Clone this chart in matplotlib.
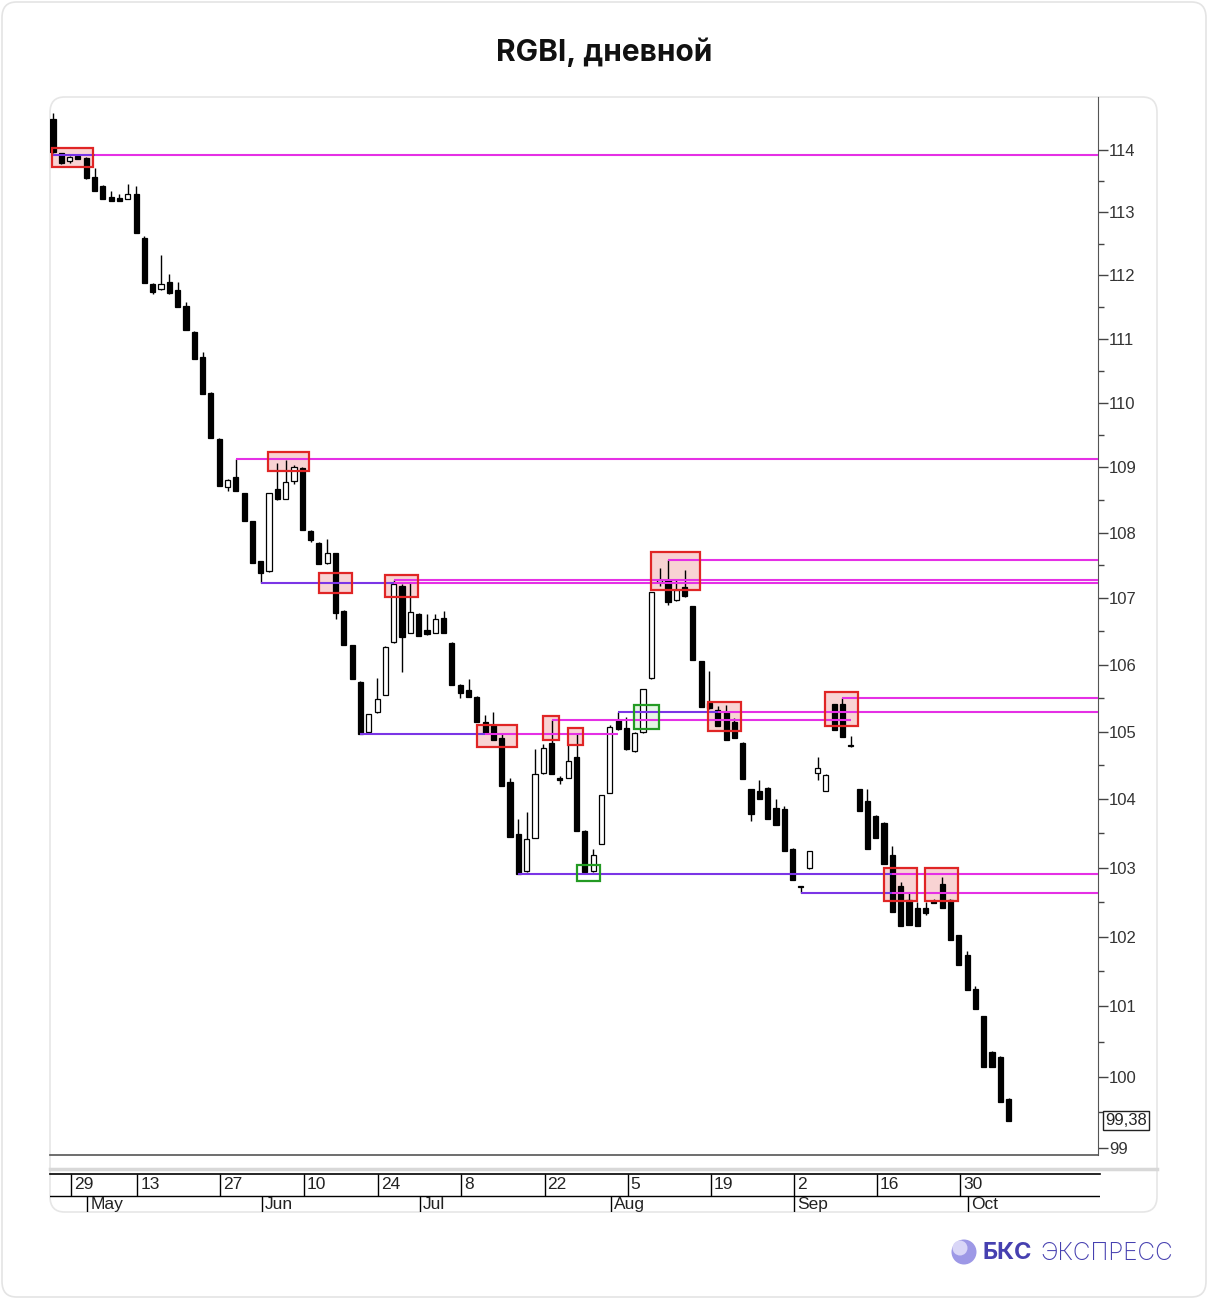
import matplotlib.pyplot as plt
from matplotlib.patches import Rectangle, FancyBboxPatch, Ellipse
from matplotlib.ticker import FixedLocator, NullFormatter

# RGBI daily candles, 2024-04-25 .. 2024-10-08 (bar index on x)
opens = [114.50, 113.95, 113.83, 113.90, 113.87, 113.57, 113.42, 113.25, 113.23, 113.22,
         113.30, 112.60, 111.87, 111.78, 111.90, 111.77, 111.52, 111.11, 110.71, 110.15,
         109.44, 108.69, 108.85, 108.60, 108.17, 107.56, 107.41, 108.66, 108.52, 108.79,
         108.99, 108.03, 107.84, 107.53, 107.68, 106.81, 106.29, 105.74, 104.99, 105.29,
         105.55, 106.34, 107.19, 106.48, 106.77, 106.52, 106.48, 106.70, 106.33, 105.70,
         105.62, 105.52, 105.14, 105.10, 104.91, 104.25, 103.49, 102.95, 103.44, 104.39,
         104.83, 104.30, 104.32, 104.62, 103.54, 102.95, 103.35, 104.10, 105.18, 105.05,
         104.71, 104.99, 105.80, 107.25, 107.27, 106.97, 107.17, 106.88, 106.05, 105.43,
         105.33, 105.29, 105.15, 104.84, 104.15, 104.13, 104.17, 103.88, 103.86, 103.28,
         102.73, 102.99, 104.39, 104.13, 105.41, 105.41, 104.80, 104.15, 103.97, 103.76,
         103.66, 103.18, 102.74, 102.53, 102.41, 102.42, 102.50, 102.77, 102.53, 102.02,
         101.73, 101.25, 100.86, 100.35, 100.28, 99.68]
highs = [114.60, 113.96, 113.90, 113.91, 113.89, 113.71, 113.44, 113.34, 113.30, 113.46,
         113.42, 112.62, 111.88, 112.33, 112.02, 111.90, 111.58, 111.12, 110.79, 110.16,
         109.45, 108.82, 109.13, 108.61, 108.18, 107.57, 108.60, 109.07, 109.11, 109.03,
         109.00, 108.04, 107.85, 107.90, 107.69, 106.82, 106.30, 105.75, 105.27, 105.80,
         106.28, 107.27, 107.22, 107.24, 106.78, 106.76, 106.76, 106.81, 106.34, 105.71,
         105.79, 105.53, 105.25, 105.30, 104.97, 104.32, 103.71, 103.81, 104.74, 104.82,
         105.18, 104.34, 104.80, 104.96, 103.55, 103.28, 104.06, 105.10, 105.30, 105.22,
         104.99, 105.64, 107.10, 107.46, 107.58, 107.27, 107.43, 106.89, 106.06, 105.91,
         105.39, 105.40, 105.20, 104.85, 104.16, 104.28, 104.18, 104.00, 103.91, 103.29,
         102.74, 103.25, 104.63, 104.37, 105.42, 105.50, 104.94, 104.16, 104.15, 103.77,
         103.67, 103.31, 102.79, 102.65, 102.50, 102.50, 102.55, 102.87, 102.54, 102.03,
         101.79, 101.29, 100.87, 100.36, 100.29, 99.70]
lows = [113.96, 113.77, 113.80, 113.85, 113.54, 113.34, 113.21, 113.19, 113.19, 113.21,
        112.67, 111.88, 111.70, 111.77, 111.70, 111.50, 111.13, 110.68, 110.14, 109.46,
        108.71, 108.64, 108.64, 108.17, 107.54, 107.23, 107.40, 108.49, 108.51, 108.74,
        108.04, 107.86, 107.52, 107.52, 106.68, 106.29, 105.78, 104.97, 104.98, 105.28,
        105.54, 106.33, 105.89, 106.47, 106.43, 106.45, 106.47, 106.47, 105.70, 105.50,
        105.52, 105.15, 104.98, 104.88, 104.20, 103.45, 102.91, 102.94, 103.43, 104.38,
        104.37, 104.22, 104.31, 103.53, 102.91, 102.94, 103.34, 104.09, 105.03, 104.73,
        104.70, 104.98, 105.79, 107.18, 106.90, 106.96, 107.02, 106.07, 105.37, 105.34,
        105.09, 104.87, 104.91, 104.30, 103.68, 104.01, 103.71, 103.62, 103.24, 102.82,
        102.63, 102.98, 104.29, 104.12, 105.02, 104.92, 104.77, 103.83, 103.28, 103.43,
        103.06, 102.36, 102.16, 102.17, 102.16, 102.31, 102.49, 102.41, 101.95, 101.59,
        101.23, 100.97, 100.14, 100.14, 99.65, 99.38]
closes = [113.97, 113.79, 113.89, 113.86, 113.55, 113.34, 113.21, 113.19, 113.19, 113.29,
          112.67, 111.88, 111.74, 111.87, 111.72, 111.50, 111.13, 110.68, 110.14, 109.46,
          108.71, 108.81, 108.64, 108.17, 107.54, 107.38, 108.60, 108.51, 108.78, 109.00,
          108.04, 107.88, 107.52, 107.68, 106.78, 106.29, 105.78, 104.97, 105.26, 105.49,
          106.27, 107.21, 106.41, 106.79, 106.43, 106.46, 106.68, 106.48, 105.70, 105.57,
          105.52, 105.15, 104.98, 104.88, 104.20, 103.45, 102.91, 103.42, 104.37, 104.76,
          104.37, 104.29, 104.56, 103.53, 102.94, 103.18, 104.06, 105.07, 105.04, 104.74,
          104.98, 105.64, 107.09, 107.26, 106.94, 107.13, 107.03, 106.07, 105.37, 105.35,
          105.09, 104.87, 104.91, 104.30, 103.78, 104.01, 103.71, 103.62, 103.24, 102.82,
          102.72, 103.24, 104.47, 104.36, 105.02, 104.92, 104.79, 103.83, 103.28, 103.43,
          103.06, 102.36, 102.16, 102.17, 102.16, 102.35, 102.49, 102.41, 101.95, 101.59,
          101.23, 100.97, 100.14, 100.14, 99.65, 99.38]
last_price = "99,38"

day_ticks = [2, 10, 20, 30, 39, 49, 59, 69, 79, 89, 99, 109]
day_labels = ["29", "13", "27", "10", "24", "8", "22", "5", "19", "2", "16", "30"]
month_ticks = [4, 25, 44, 67, 89, 110]
month_labels = ["May", "Jun", "Jul", "Aug", "Sep", "Oct"]
price_ticks = list(range(99, 115))

MAG = "#e530e5"
PUR = "#7b35e6"
# levels: price, from bar, to bar (None = right edge), colour
levels = [(113.92, 0, 5, PUR), (113.92, 5, None, MAG),
          (109.13, 22, None, MAG),
          (107.23, 25, 41, PUR), (107.23, 41, None, MAG),
          (107.28, 41, None, MAG),
          (107.58, 74, None, MAG),
          (105.50, 95, None, MAG),
          (105.30, 68, 80, PUR), (105.30, 80, None, MAG),
          (105.17, 60, 96, MAG),
          (104.97, 37, 52, PUR), (104.97, 52, 68, MAG),
          (102.91, 56, 101, PUR), (102.91, 101, None, MAG),
          (102.63, 90, 101, PUR), (102.63, 101, None, MAG)]
# boxes: bar from, bar to, price low, price high, kind
boxes = [(-0.1, 4.8, 113.73, 114.03, "r"), (25.9, 30.8, 108.94, 109.23, "r"),
         (32.0, 36.0, 107.08, 107.38, "r"), (39.9, 43.9, 107.02, 107.36, "r"),
         (51.0, 55.8, 104.78, 105.10, "r"), (59.0, 60.9, 104.88, 105.24, "r"),
         (62.0, 63.8, 104.81, 105.06, "r"), (63.1, 65.8, 102.81, 103.04, "g"),
         (69.9, 72.9, 105.04, 105.40, "G"), (72.0, 77.9, 107.12, 107.70, "r"),
         (78.8, 82.8, 105.01, 105.44, "r"), (92.9, 96.9, 105.09, 105.59, "r"),
         (100.0, 104.0, 102.52, 103.00, "r"), (104.9, 108.9, 102.52, 103.00, "r")]

W, H = 1208, 1299
fig = plt.figure(figsize=(W / 100, H / 100), dpi=100)
fig.patch.set_facecolor("white")


def fb(x0, y0, x1, y1):
    # pixel box -> figure fractions
    return [x0 / W, 1 - y1 / H, (x1 - x0) / W, (y1 - y0) / H]


# outer frame and card, behind everything
fig.patches.append(FancyBboxPatch((2 / W, 2 / H), 1 - 4 / W, 1 - 4 / H,
                                  boxstyle="round,pad=0,rounding_size=0.012",
                                  transform=fig.transFigure, fc="white", ec="#e4e4e4", lw=1.2, zorder=-20))
fig.patches.append(FancyBboxPatch((50 / W, 1 - 1212 / H), 1107 / W, 1115 / H,
                                  boxstyle="round,pad=0,rounding_size=0.012",
                                  transform=fig.transFigure, fc="white", ec="#e6e6e6", lw=1.2, zorder=-10))

fig.text(0.5, 1 - 52 / H, "RGBI, дневной", ha="center", va="center",
         fontsize=21.5, fontweight="bold", family=["Inter", "DejaVu Sans"], color="#111111")

ax = fig.add_axes(fb(50, 97, 1098, 1155))
ax.set_zorder(5)
ax.patch.set_alpha(0)
xmin, xmax = -0.36, 125.75
ax.set_xlim(xmin, xmax)
ax.set_yscale("log")
ax.set_ylim(98.90, 114.86)

n = len(opens)
xs = list(range(n))
ax.vlines(xs, lows, highs, color="black", lw=1.0, zorder=2)
for i in xs:
    o, c = opens[i], closes[i]
    lo, hi = min(o, c), max(o, c)
    if hi - lo < 0.02:
        hi = lo + 0.02
    up = c > o
    ax.bar(i, hi - lo, bottom=lo, width=0.62, color="white" if up else "black",
           edgecolor="black", lw=0.9, zorder=3)

for x0, x1, p0, p1, kind in boxes:
    if kind == "r":
        fc, ec = (0.93, 0.55, 0.55, 0.38), "#e02525"
    elif kind == "G":
        fc, ec = (0.7, 0.9, 0.7, 0.35), "#239a23"
    else:
        fc, ec = "none", "#239a23"
    ax.add_patch(Rectangle((x0, p0), x1 - x0, p1 - p0, fc=fc, ec="none", zorder=1))
    ax.add_patch(Rectangle((x0, p0), x1 - x0, p1 - p0, fc="none", ec=ec, lw=1.6, zorder=5))

for p, a, b, col in levels:
    ax.hlines(p, a, xmax if b is None else b, color=col, lw=1.5, zorder=4)

for s in ["top", "left"]:
    ax.spines[s].set_visible(False)
ax.spines["right"].set_color("#555555")
ax.spines["bottom"].set_color("#555555")
ax.spines["bottom"].set_linewidth(1.2)
ax.set_xticks([])
ax.yaxis.tick_right()
ax.yaxis.set_major_locator(FixedLocator(price_ticks))
ax.yaxis.set_minor_locator(FixedLocator([t + 0.5 for t in price_ticks[:-1]]))
ax.yaxis.set_minor_formatter(NullFormatter())
ax.set_yticklabels([str(t) for t in price_ticks])
ax.tick_params(axis="y", which="major", length=7, width=1, color="#444444",
               labelsize=12, labelcolor="#333333", pad=1)
ax.tick_params(axis="y", which="minor", length=4, width=1, color="#444444")
for lab in ax.get_yticklabels():
    lab.set_family("Liberation Sans")
ax.text(1.007, closes[-1], last_price, transform=ax.get_yaxis_transform(), va="center", ha="left",
        fontsize=12, family="Liberation Sans", color="#222222",
        bbox=dict(boxstyle="square,pad=0.12", fc="white", ec="#222222", lw=1))

# date strip
fig.add_artist(plt.Line2D([50 / W, 1157 / W], [1 - 1169 / H] * 2, color="#d8d8d8", lw=2.5))
dx = fig.add_axes(fb(50, 1174, 1100, 1212))
dx.set_zorder(5)
dx.set_xlim(xmin, xmax + 2 / 8.31)
dx.set_ylim(0, 1)
dx.axis("off")
mid = 16 / 38
dx.axhline(1, color="black", lw=1.2, clip_on=False)
dx.axhline(mid, color="black", lw=1.0)
for t, lab in zip(day_ticks, day_labels):
    dx.vlines(t + 0.15, mid, 1, color="black", lw=1.0)
    dx.text(t + 0.5, 0.73, lab, ha="left", va="center", fontsize=12.5,
            family="Liberation Sans", color="#222222")
for t, lab in zip(month_ticks, month_labels):
    dx.vlines(t + 0.15, 0, mid, color="black", lw=1.0)
    dx.text(t + 0.5, 0.19, lab, ha="left", va="center", fontsize=12.5,
            family="Liberation Sans", color="#222222", clip_on=True)

# logo
fig.patches.append(Ellipse((964 / W, 1 - 1252 / H), 25 / W, 25 / H, transform=fig.transFigure,
                           fc="#9d98e6", ec="none"))
fig.patches.append(Ellipse((960 / W, 1 - 1248 / H), 15 / W, 15 / H, transform=fig.transFigure,
                           fc="#d9d6f7", ec="none"))
fig.text(982 / W, 1 - 1253 / H, "БКС", ha="left", va="center", fontsize=17, fontweight="bold",
         family=["Inter", "DejaVu Sans"], color="#4640b0")
fig.text(1040 / W, 1 - 1253 / H, "ЭКСПРЕСС", ha="left", va="center", fontsize=17.5,
         fontweight="light", family=["Inter", "DejaVu Sans"], color="#4640b0")

fig.savefig("out.png", dpi=100)
